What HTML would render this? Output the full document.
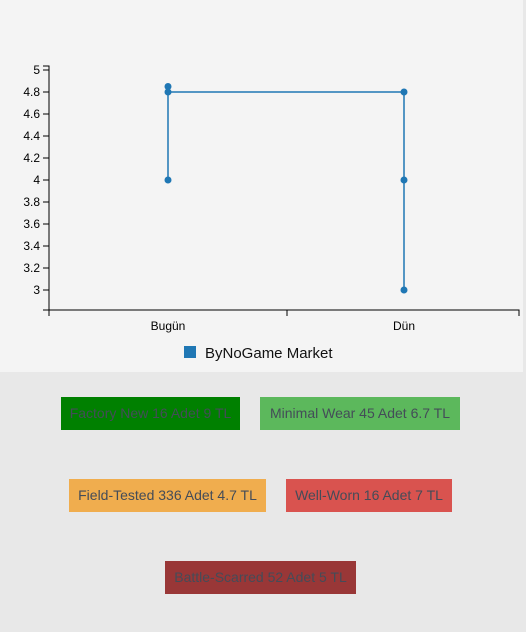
<!DOCTYPE html>
<html><head><meta charset="utf-8"><style>
body{margin:0;width:526px;height:632px;background:#e8e8e8;font-family:"Liberation Sans",sans-serif;position:relative;overflow:hidden}
#chart{position:absolute;left:0;top:0;width:523px;height:372px;background:#f4f4f4}
.btn{position:absolute;height:33px;line-height:33px;font-size:14px;color:#444c58;text-align:center;white-space:nowrap}
</style></head><body>
<div id="chart">
<svg id="svg" width="523" height="372"></svg>
</div>
<div class="btn" style="left:61px;top:397px;width:179px;background:#008000">Factory New 16 Adet 9 TL</div>
<div class="btn" style="left:260px;top:397px;width:200px;background:#5cb85c">Minimal Wear 45 Adet 6.7 TL</div>
<div class="btn" style="left:69px;top:479px;width:197px;background:#f0ad4e">Field-Tested 336 Adet 4.7 TL</div>
<div class="btn" style="left:286px;top:479px;width:166px;background:#d9534f">Well-Worn 16 Adet 7 TL</div>
<div class="btn" style="left:165px;top:561px;width:191px;background:#993737">Battle-Scarred 52 Adet 5 TL</div>
<script>
const categories=["Bugün","Dün"];
const pointCats=["Bugün","Bugün","Bugün","Dün","Dün","Dün"];
const pointVals=[4,4.85,4.8,4.8,4,3];
const yTicks=[3,3.2,3.4,3.6,3.8,4,4.2,4.4,4.6,4.8,5];
const legendLabel="ByNoGame Market";
const NS="http://www.w3.org/2000/svg";
const svg=document.getElementById('svg');
const y=v=>70+(5-v)*110;
const x0=50,bw=236;
const x=c=>x0+categories.indexOf(c)*bw+bw/2;
function mk(t,a){const e=document.createElementNS(NS,t);for(const k in a)e.setAttribute(k,a[k]);svg.appendChild(e);return e;}
const ya=mk('path',{d:'M43,66H49V310H43',fill:'none',stroke:'#000','stroke-width':1});


yTicks.forEach(v=>{
 const l=mk('line',{x1:43,x2:49,y1:y(v),y2:y(v),stroke:'#000'});
 
 
 const t=mk('text',{x:40,y:y(v)+4,'text-anchor':'end','font-size':12,fill:'#000'});
 t.textContent=String(v);
 
 
});
const xa=mk('path',{d:'M49,316V310H519V316',fill:'none',stroke:'#000'});


const mt=mk('line',{x1:287,x2:287,y1:310,y2:316,stroke:'#000'});


categories.forEach(c=>{
 const t=mk('text',{x:x(c),y:330,'text-anchor':'middle','font-size':12,fill:'#000'});
 t.textContent=c;
 
 
});
const d=pointVals.map((v,i)=>(i?'L':'M')+x(pointCats[i])+','+y(v)).join('');
const ln=mk('path',{d:d,fill:'none',stroke:'#1f77b4','stroke-width':1.5});


pointVals.forEach((v,i)=>{
 const c=mk('circle',{cx:x(pointCats[i]),cy:y(v),r:3.5,fill:'#1f77b4'});
 
 
});
const lr=mk('rect',{x:184,y:346,width:12,height:12,fill:'#1f77b4'});


const lt=mk('text',{x:205,y:358,'font-size':15,fill:'#111'});
lt.textContent=legendLabel;


</script>
</body></html>
